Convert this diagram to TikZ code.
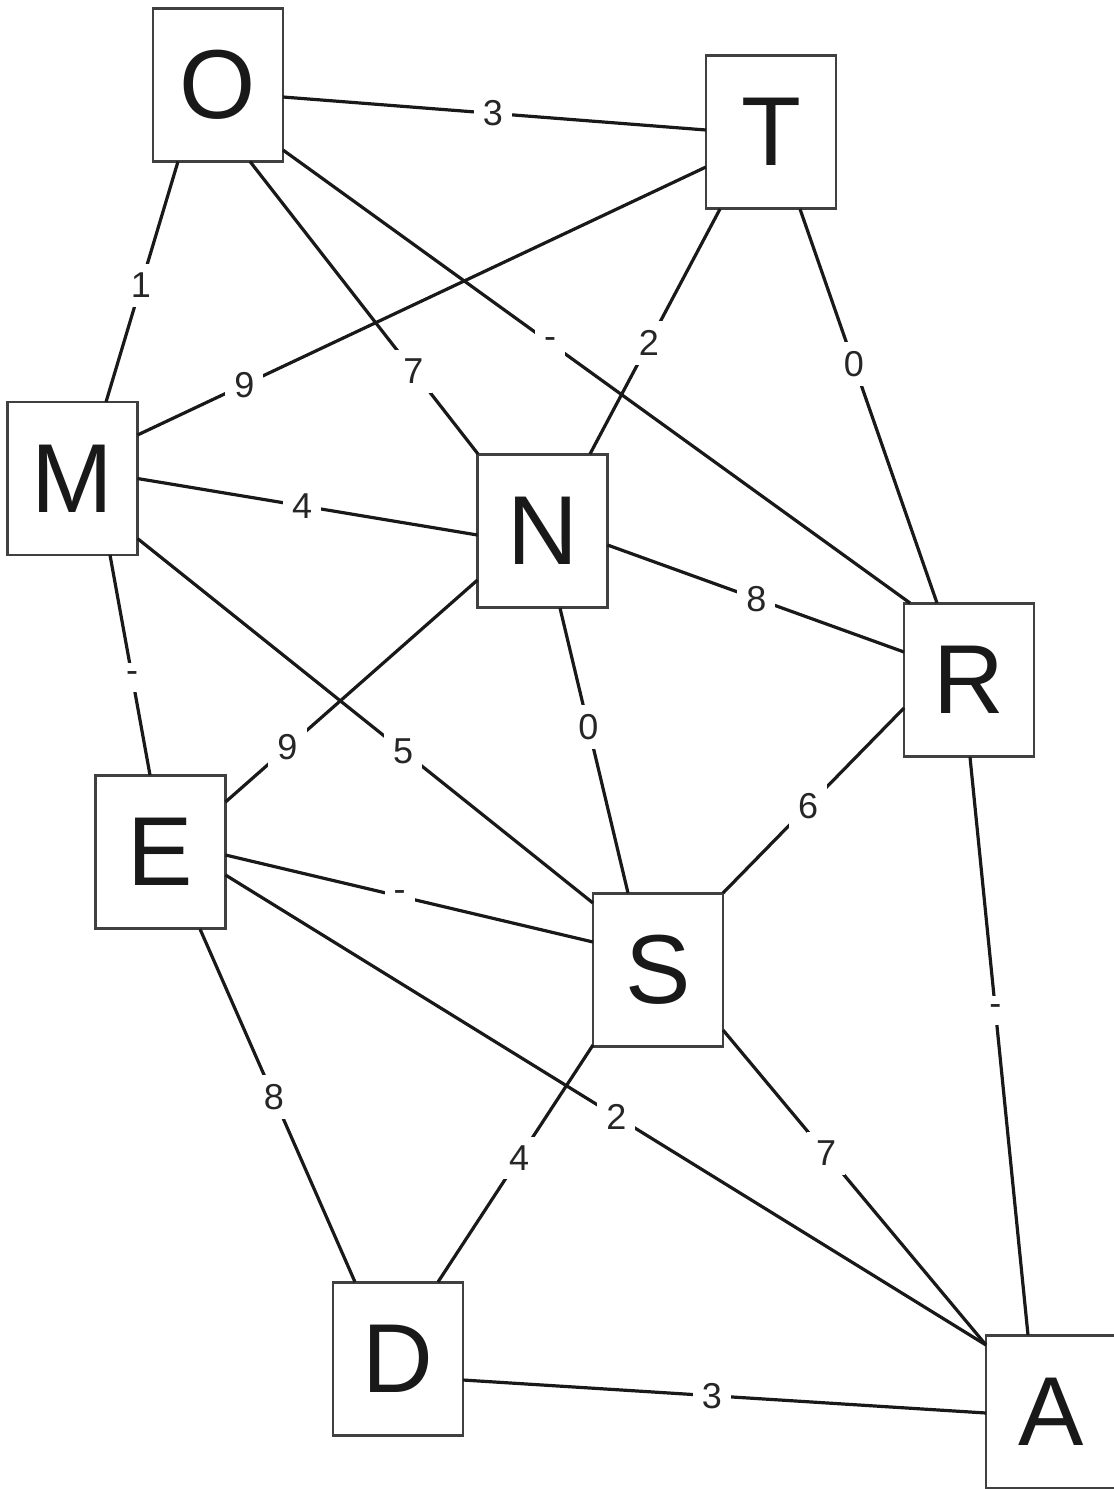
\documentclass[tikz,border=0pt]{standalone}
\usepackage{fontspec}
\setmainfont{Liberation Sans}
\usetikzlibrary{calc}
\begin{document}
\begin{tikzpicture}[x=1pt,y=-1pt,
  box/.style={draw=black!75,line width=2.5pt,fill=white,minimum width=130pt,minimum height=153pt,inner sep=0pt,
    font=\fontsize{98}{98}\selectfont,text=black!90},
  edge/.style={line width=3.2pt,black!90},
  lbl/.style={fill=white,inner sep=9pt,font=\fontsize{36}{36}\selectfont,text=black!85}]
\useasboundingbox (0,0) rectangle (1114,1489);
\node[box] (O) at (218,85) {O};
\node[box] (T) at (771,132) {T};
\node[box] (M) at (72.5,478.5) {M};
\node[box] (N) at (542.5,531) {N};
\node[box] (R) at (969,680) {R};
\node[box] (E) at (160.5,852) {E};
\node[box] (S) at (658,970) {S};
\node[box] (D) at (398,1359) {D};
\node[box] (A) at (1051,1412) {A};
\draw[edge] ($(O)+(65,12)$) -- node[lbl,pos=0.496]{3} ($(T)+(-65,-2)$);
\draw[edge] ($(O)+(-40,76.5)$) -- node[lbl,pos=0.515]{1} ($(M)+(33.5,-76.5)$);
\draw[edge] ($(O)+(32,76.5)$) -- node[lbl,pos=0.717]{7} ($(N)+(-64.5,-77)$);
\draw[edge] ($(O)+(65,65)$) -- node[lbl,pos=0.426]{-} ($(R)+(-59,-77)$);
\draw[edge] ($(T)+(-65,35)$) -- node[lbl,pos=0.812]{9} ($(M)+(65,-43.5)$);
\draw[edge] ($(T)+(-51,77)$) -- node[lbl,pos=0.547]{2} ($(N)+(47.5,-77)$);
\draw[edge] ($(T)+(29,77)$) -- node[lbl,pos=0.393]{0} ($(R)+(-32,-77)$);
\draw[edge] ($(M)+(65,0)$) -- node[lbl,pos=0.484]{4} ($(N)+(-65,4)$);
\draw[edge] ($(M)+(37.5,76.5)$) -- node[lbl,pos=0.555]{-} ($(E)+(-10.5,-77)$);
\draw[edge] ($(M)+(65,60)$) -- node[lbl,pos=0.583]{5} ($(S)+(-65,-67)$);
\draw[edge] ($(N)+(65,14)$) -- node[lbl,pos=0.502]{8} ($(R)+(-65,-28)$);
\draw[edge] ($(N)+(-65,49)$) -- node[lbl,pos=0.754]{9} ($(E)+(65,-50)$);
\draw[edge] ($(N)+(17.5,77)$) -- node[lbl,pos=0.418]{0} ($(S)+(-30,-77)$);
\draw[edge] ($(R)+(-65,28)$) -- node[lbl,pos=0.530]{6} ($(S)+(65,-77)$);
\draw[edge] ($(R)+(1,77)$) -- node[lbl,pos=0.438]{-} ($(A)+(-23,-77)$);
\draw[edge] ($(E)+(65,3)$) -- node[lbl,pos=0.474]{-} ($(S)+(-65,-28)$);
\draw[edge] ($(E)+(65,23)$) -- node[lbl,pos=0.514]{2} ($(A)+(-65,-67)$);
\draw[edge] ($(E)+(39.5,77)$) -- node[lbl,pos=0.476]{8} ($(D)+(-43,-77)$);
\draw[edge] ($(S)+(-65,75)$) -- node[lbl,pos=0.477]{4} ($(D)+(40,-77)$);
\draw[edge] ($(S)+(65,60)$) -- node[lbl,pos=0.392]{7} ($(A)+(-65,-67)$);
\draw[edge] ($(D)+(65,21)$) -- node[lbl,pos=0.476]{3} ($(A)+(-65,1)$);
\end{tikzpicture}
\end{document}
